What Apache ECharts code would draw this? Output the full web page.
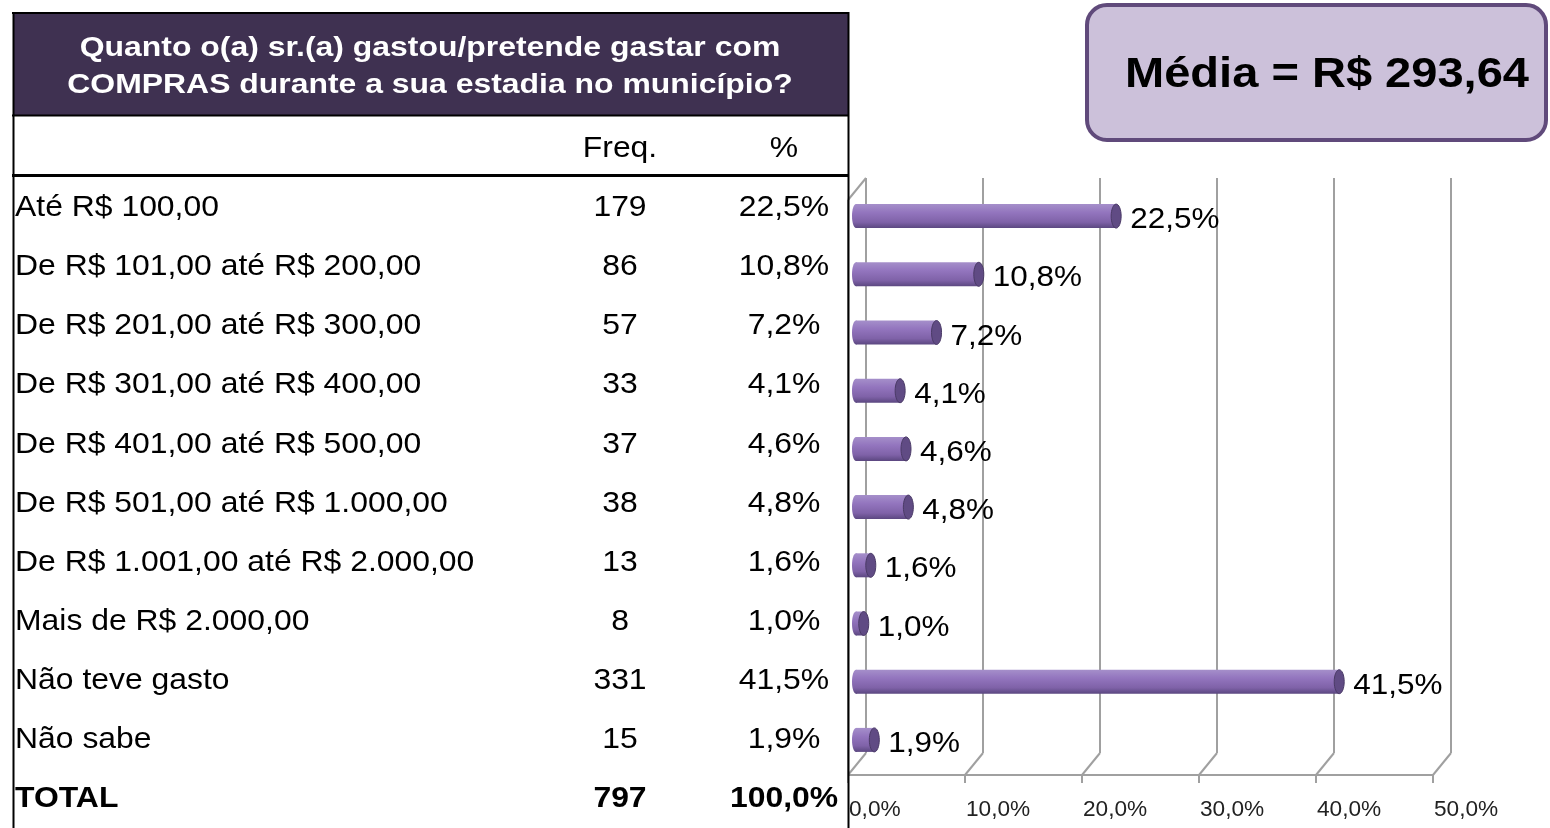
<!DOCTYPE html>
<html><head><meta charset="utf-8">
<script src="https://cdn.jsdelivr.net/npm/echarts@6/dist/echarts.min.js"></script>
<style>html,body{margin:0;padding:0;background:#fff}#c{width:1550px;height:828px}</style>
</head><body><div id="c"></div>
<script>
// ---- data ----
const categories = ['Até R$ 100,00','De R$ 101,00 até R$ 200,00','De R$ 201,00 até R$ 300,00','De R$ 301,00 até R$ 400,00','De R$ 401,00 até R$ 500,00','De R$ 501,00 até R$ 1.000,00','De R$ 1.001,00 até R$ 2.000,00','Mais de R$ 2.000,00','Não teve gasto','Não sabe'];
const freq = [179,86,57,33,37,38,13,8,331,15];
const pct = [22.5,10.8,7.2,4.1,4.6,4.8,1.6,1.0,41.5,1.9];
const totalLabel = 'TOTAL';
const totalFreq = 797;
const totalPct = 100.0;
const xTicks = [0,10,20,30,40,50];
const titleLines = ['Quanto o(a) sr.(a) gastou/pretende gastar com','COMPRAS durante a sua estadia no município?'];
const colHeaders = ['Freq.','%'];
const mediaText = 'Média = R$ 293,64';

// ---- helpers / layout ----
const SX = 1.10; // horizontal stretch of the original picture
const FONT = '"Liberation Sans", Arial, sans-serif';
const fmt = v => v.toFixed(1).replace('.', ',') + '%';
const GRID = '#a0a0a0';
const FRONT = {left: 848, top: 200, width: 585, height: 575};
const BACK = {left: 866, top: 178, width: 585, height: 575};
const DX = BACK.left - FRONT.left;
const DY = (BACK.top + BACK.height) - (FRONT.top + FRONT.height);

const rowLabels = categories.concat([totalLabel]);
const rowFreq = freq.concat([totalFreq]);
const rowPct = pct.concat([totalPct]);
const tableRows = rowLabels.map((n, i) => [i, rowFreq[i], rowPct[i]]);

function txt(x, y, text, size, align, bold, color, sx) {
  return {type: 'text', x: x, y: y, scaleX: sx || SX, style: {
    text: text, x: 0, y: 0, fill: color || '#000', align: align, verticalAlign: 'middle',
    font: (bold ? 'bold ' : '') + size + 'px ' + FONT }};
}

const chart = echarts.init(document.getElementById('c'), null, {renderer: 'canvas'});
chart.setOption({
  animation: false,
  grid: [
    Object.assign({}, BACK),
    {left: 852, top: 187, width: 587, height: 582},
    Object.assign({}, FRONT),
    {left: 0, top: 177.5, width: 1550, height: 655.6}
  ],
  xAxis: [
    {gridIndex: 0, type: 'value', min: 0, max: 50, interval: 10, axisLine: {show: false}, axisTick: {show: false}, axisLabel: {show: false},
     splitLine: {show: true, lineStyle: {color: GRID, width: 2}}},
    {gridIndex: 1, type: 'value', min: 0, max: 50, show: false},
    {gridIndex: 2, type: 'value', min: 0, max: 50, interval: 10,
     axisLine: {show: true, lineStyle: {color: GRID, width: 2}},
     axisTick: {show: true, length: 8, lineStyle: {color: GRID, width: 2}},
     axisLabel: {show: false},
     splitLine: {show: false}},
    {gridIndex: 3, type: 'value', min: 0, max: 1550, show: false}
  ],
  yAxis: [
    {gridIndex: 0, type: 'value', show: false},
    {gridIndex: 1, type: 'category', data: categories, inverse: true, show: false},
    {gridIndex: 2, type: 'value', show: false},
    {gridIndex: 3, type: 'category', data: rowLabels, inverse: true, show: false}
  ],
  series: [
    { // floor diagonals, left wall edge and axis labels
      type: 'custom', xAxisIndex: 2, yAxisIndex: 2, data: xTicks.map(v => [v]), silent: true, z: 1,
      renderItem: function (params, api) {
        const v = api.value(0);
        const p = api.coord([v, 0]);
        const children = [
          {type: 'line', shape: {x1: p[0], y1: p[1], x2: p[0] + DX, y2: p[1] + DY}, style: {stroke: GRID, lineWidth: 2}},
          txt(p[0] + 1, p[1] + 35, fmt(v), 22, 'left', false, '#222', 1.03)
        ];
        if (params.dataIndex === 0) {
          children.push({type: 'line', shape: {x1: p[0], y1: BACK.top - DY, x2: p[0] + DX, y2: BACK.top}, style: {stroke: GRID, lineWidth: 2}});
          children.push({type: 'line', shape: {x1: p[0], y1: BACK.top - DY, x2: p[0], y2: p[1]}, style: {stroke: GRID, lineWidth: 2}});
        }
        return {type: 'group', children: children};
      }
    },
    { // cylinder bars
      type: 'custom', xAxisIndex: 1, yAxisIndex: 1, data: pct.map((v, i) => [v, i]), z: 5,
      renderItem: function (params, api) {
        const v = api.value(0), c = api.value(1);
        const p0 = api.coord([0, c]);
        const p1 = api.coord([v, c]);
        const h = 24, y = p0[1] - h / 2;
        const grad = new echarts.graphic.LinearGradient(0, 0, 0, 1, [
          {offset: 0, color: '#a58fca'}, {offset: 0.35, color: '#9375be'}, {offset: 0.75, color: '#7f62a8'}, {offset: 1, color: '#5b4780'}]);
        return {type: 'group', children: [
          {type: 'ellipse', shape: {cx: p0[0] + 4, cy: p0[1], rx: 4, ry: h / 2}, style: {fill: grad}},
          {type: 'rect', shape: {x: p0[0] + 4, y: y, width: Math.max(p1[0] - p0[0] - 4, 0), height: h}, style: {fill: grad}},
          {type: 'ellipse', shape: {cx: p1[0], cy: p0[1], rx: 5, ry: h / 2}, style: {fill: '#604b84', stroke: '#4a3a66', lineWidth: 1}},
          txt(p1[0] + 14, p0[1] + 4, fmt(v), 29, 'left', false, '#000', 1.085)
        ]};
      }
    },
    { // table text
      type: 'custom', xAxisIndex: 3, yAxisIndex: 3, data: tableRows, z: 10,
      renderItem: function (params, api) {
        const i = api.value(0);
        const yy = api.coord([0, i])[1] + 1;
        const bold = i === rowLabels.length - 1;
        return {type: 'group', children: [
          txt(api.coord([15, i])[0], yy, rowLabels[i], 29, 'left', bold),
          txt(api.coord([620, i])[0], yy, String(rowFreq[i]), 29, 'center', bold),
          txt(api.coord([784, i])[0], yy, fmt(rowPct[i]), 29, 'center', bold)
        ]};
      }
    }
  ],
  graphic: [
    {type: 'rect', shape: {x: 13, y: 13, width: 835, height: 102}, style: {fill: '#3f3151'}, z: 20},
    Object.assign(txt(430, 48, titleLines[0], 28, 'center', true, '#fff', 1.14), {z: 21}),
    Object.assign(txt(430, 85, titleLines[1], 28, 'center', true, '#fff', 1.14), {z: 21}),
    Object.assign(txt(620, 149, colHeaders[0], 29, 'center', false), {z: 21}),
    Object.assign(txt(784, 149, colHeaders[1], 29, 'center', false), {z: 21}),
    {type: 'line', shape: {x1: 12, y1: 13, x2: 849, y2: 13}, style: {stroke: '#000', lineWidth: 2}, z: 22},
    {type: 'line', shape: {x1: 12, y1: 115.5, x2: 849, y2: 115.5}, style: {stroke: '#000', lineWidth: 2}, z: 22},
    {type: 'line', shape: {x1: 12, y1: 175.5, x2: 849, y2: 175.5}, style: {stroke: '#000', lineWidth: 3}, z: 22},
    {type: 'line', shape: {x1: 13.5, y1: 12, x2: 13.5, y2: 828}, style: {stroke: '#000', lineWidth: 2}, z: 22},
    {type: 'line', shape: {x1: 848.5, y1: 12, x2: 848.5, y2: 828}, style: {stroke: '#000', lineWidth: 2}, z: 22},
    {type: 'rect', shape: {x: 1087, y: 5, width: 459, height: 135, r: 20}, style: {fill: '#ccc1da', stroke: '#604a7b', lineWidth: 4}, z: 20},
    Object.assign(txt(1327, 75, mediaText, 42, 'center', true, '#000', 1.12), {z: 21})
  ]
});
</script></body></html>
